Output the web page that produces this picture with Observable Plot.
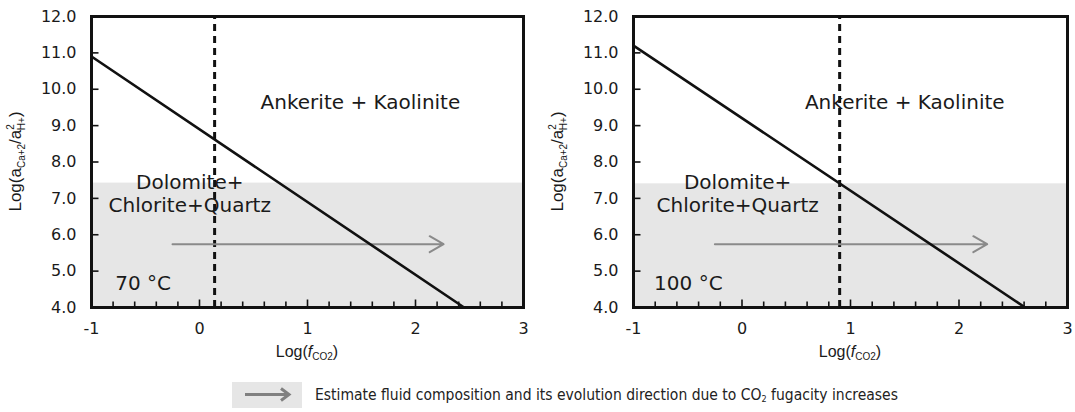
<!DOCTYPE html>
<html>
<head>
<meta charset="utf-8">
<script src="https://cdn.jsdelivr.net/npm/d3@7"></script>
<script src="https://cdn.jsdelivr.net/npm/@observablehq/plot@0.6"></script>
<style>
  body { margin: 0; background: #fff; }
  #wrap { position: relative; width: 1075px; height: 412px; overflow: hidden; background: #fff; }
  .panel { position: absolute; top: 0; }
  #legend { position: absolute; left: 232px; top: 382px; display: flex; align-items: center; }
  #legend .txt { margin-left: 13px; font-family: "Liberation Sans Narrow", "DejaVu Sans Condensed", sans-serif; font-size: 15.5px; color: #222; white-space: nowrap; }
  #legend .txt sub { font-size: 9px; vertical-align: -2px; }
</style>
</head>
<body>
<div id="wrap">
  <div id="p1" class="panel" style="left:0px"></div>
  <div id="p2" class="panel" style="left:537px"></div>
  <div id="legend"></div>
</div>
<script>
// ---- data ----
const xTicks = [-1, 0, 1, 2, 3];
const xMinorTicks = [-0.8, -0.6, -0.4, -0.2, 0.2, 0.4, 0.6, 0.8, 1.2, 1.4, 1.6, 1.8, 2.2, 2.4, 2.6, 2.8];
const yTicks = [4, 5, 6, 7, 8, 9, 10, 11, 12];
const temperatures = ["70 °C", "100 °C"];
// boundary line Dolomite+Chlorite+Quartz / Ankerite+Kaolinite (endpoints)
const boundaryX = [[-1, 2.45], [-1, 2.61]];
const boundaryY = [[10.9, 4.0], [11.2, 4.0]];
// estimated log fCO2 (dashed line)
const fco2 = [0.14, 0.90];
// upper limit of the estimated fluid composition field (grey band)
const fieldTop = [7.42, 7.40];
// evolution arrow
const arrowX1 = [-0.25, -0.25];
const arrowX2 = [2.26, 2.26];
const arrowY = [5.74, 5.74];
// field labels
const labelTexts = ["Ankerite + Kaolinite", "Dolomite+", "Chlorite+Quartz"];
const labelX = [[1.49, -0.09, -0.09], [1.50, -0.04, -0.04]];
const labelY = [[9.64, 7.44, 6.80], [9.64, 7.44, 6.80]];
const tempX = [-0.78, -0.81];
const tempY = [4.66, 4.66];
const legendText = "Estimate fluid composition and its evolution direction due to CO";
const legendTail = " fugacity increases";

// ---- drawing ----
const FONT = "DejaVu Sans";
function panel(i, el, W, ml, mr) {
  const H = 372, mt = 16, mb = 65;
  const xd = [d3.min(xTicks), d3.max(xTicks)], yd = [d3.min(yTicks), d3.max(yTicks)];
  const pyu = (H - mt - mb) / (yd[1] - yd[0]);
  const pxu = (W - ml - mr) / (xd[1] - xd[0]);
  const band = [{x1: xd[0], x2: xd[1], y1: yd[0], y2: fieldTop[i]}];
  const line = boundaryX[i].map((x, k) => ({x, y: boundaryY[i][k]}));
  const arr = [{x1: arrowX1[i], x2: arrowX2[i], y: arrowY[i]}];
  const labels = labelTexts.map((t, k) => ({t, x: labelX[i][k], y: labelY[i][k]}));
  const majT = xTicks.map(x => ({x, y1: yd[0], y2: yd[0] + 8 / pyu}));
  const minT = xMinorTicks.map(x => ({x, y1: yd[0], y2: yd[0] + 6 / pyu}));
  const yT = yTicks.map(y => ({y, x1: xd[0], x2: xd[0] + 7 / pxu}));
  const chart = Plot.plot({
    width: W, height: H,
    marginTop: mt, marginBottom: mb, marginLeft: ml, marginRight: mr,
    x: {domain: xd},
    y: {domain: yd},
    style: {fontFamily: FONT, fontSize: "16px", color: "#1a1a1a", background: "transparent", overflow: "visible"},
    marks: [
      Plot.rect(band, {x1: "x1", x2: "x2", y1: "y1", y2: "y2", fill: "#e6e6e6"}),
      Plot.ruleX([fco2[i]], {y1: yd[0], y2: yd[1], stroke: "#111", strokeWidth: 3, strokeDasharray: "7,5"}),
      Plot.arrow(arr, {x1: "x1", x2: "x2", y1: "y", y2: "y", stroke: "#8a8a8a", strokeWidth: 2, headLength: 12}),
      Plot.line(line, {x: "x", y: "y", stroke: "#111", strokeWidth: 2.6}),
      Plot.text(labels, {x: "x", y: "y", text: "t", fontSize: 20, fontFamily: FONT, fill: "#1a1a1a"}),
      Plot.text([temperatures[i]], {x: tempX[i], y: tempY[i], text: d => d, textAnchor: "start", fontSize: 20, fontFamily: FONT, fill: "#1a1a1a"}),
      // inward ticks
      Plot.link(majT, {x1: "x", x2: "x", y1: "y1", y2: "y2", stroke: "#111", strokeWidth: 1.6}),
      Plot.link(minT, {x1: "x", x2: "x", y1: "y1", y2: "y2", stroke: "#111", strokeWidth: 1.6}),
      Plot.link(yT, {x1: "x1", x2: "x2", y1: "y", y2: "y", stroke: "#111", strokeWidth: 1.6}),
      Plot.axisX(xTicks, {tickSize: 0, tickPadding: 15, label: null, fontSize: 16, tickFormat: d => d}),
      Plot.axisY(yTicks, {tickSize: 0, tickPadding: 15, label: null, fontSize: 16, tickFormat: d3.format(".1f")}),
      Plot.frame({stroke: "#111", strokeWidth: 3})
    ]
  });
  const svg = d3.select(chart);
  const sub = "Liberation Sans";
  // x-axis title
  const cx = ml + (W - ml - mr) / 2;
  const xt = svg.append("text").attr("x", cx).attr("y", H - 15)
    .attr("text-anchor", "middle").attr("font-family", sub).attr("font-size", 16).attr("fill", "#1a1a1a");
  xt.append("tspan").text("Log(");
  xt.append("tspan").attr("font-style", "italic").text("f");
  xt.append("tspan").attr("font-size", 10).attr("dy", 3).text("CO2");
  xt.append("tspan").attr("dy", -3).text(")");
  // y-axis title
  const cy = mt + (H - mt - mb) / 2;
  const yt = svg.append("text").attr("transform", `translate(${ml - 70},${cy}) rotate(-90)`)
    .attr("text-anchor", "middle").attr("font-family", sub).attr("font-size", 17).attr("fill", "#1a1a1a");
  yt.append("tspan").text("Log(a");
  yt.append("tspan").attr("font-size", 10).attr("dy", 4).text("Ca+2");
  yt.append("tspan").attr("dy", -4).text("/a");
  yt.append("tspan").attr("font-size", 10).attr("dy", -7).text("2");
  yt.append("tspan").attr("font-size", 10).attr("dx", -6).attr("dy", 11).text("H+");
  yt.append("tspan").attr("dy", -4).text(")");
  el.appendChild(chart);
}
panel(0, document.getElementById("p1"), 537, 91, 14);
panel(1, document.getElementById("p2"), 538, 96, 8);

// legend
const lg = d3.select("#legend");
const sw = lg.append("svg").attr("width", 70).attr("height", 26);
sw.append("rect").attr("width", 70).attr("height", 26).attr("fill", "#e6e6e6");
sw.append("path").attr("d", "M13,12.5H57M49,6.5L57,12.5L49,18.5").attr("fill", "none").attr("stroke", "#808080").attr("stroke-width", 3);
const tx = lg.append("span").attr("class", "txt");
tx.append("span").text(legendText);
tx.append("sub").text("2");
tx.append("span").text(legendTail);
</script>
</body>
</html>
